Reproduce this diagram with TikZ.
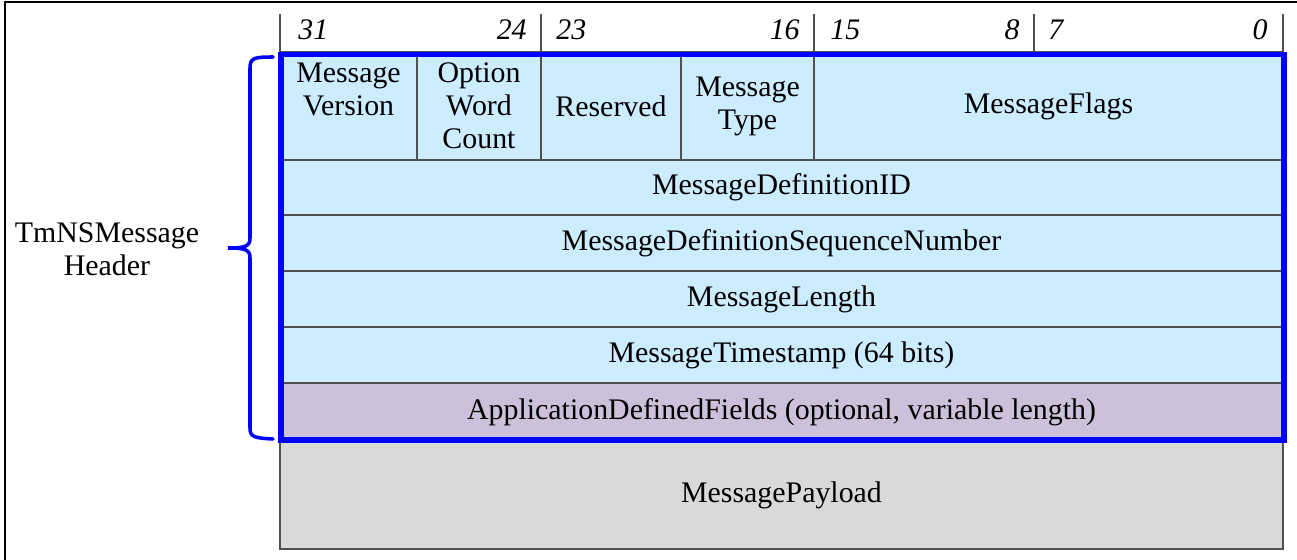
\documentclass[tikz,border=0pt]{standalone}
\usepackage{fontspec}
\setmainfont{Liberation Serif}
\newfontfamily\timesfont{Liberation Serif}
\usetikzlibrary{positioning}
\tikzset{>=latex}
\definecolor{fieldblue}{HTML}{CCECFF}
\definecolor{fieldpurple}{HTML}{CCC0DA}
\definecolor{fieldgray}{HTML}{D9D9D9}
\definecolor{cellline}{HTML}{505050}
\definecolor{headblue}{HTML}{0000FF}
\tikzset{
  cell/.style={draw=cellline,line width=0.6pt,inner sep=0pt,outer sep=0pt,align=center,
    anchor=north west,font=\timesfont\fontsize{17}{18.8}\selectfont},
  bitnum/.style={inner sep=0pt,font=\timesfont\fontsize{17}{17}\selectfont\itshape},
  bittick/.style={draw=cellline,line width=0.6pt}
}

\begin{document}
\begin{tikzpicture}[x=0.02cm,y=-0.02cm]
	\useasboundingbox (0,0) rectangle (1297,560);
	\draw [line width=1.2pt] (5,560) -- (5,2) -- (1297,2);

	% bit positions
	\foreach \t in {280,541,814,1034,1283}
		\draw [bittick] (\t,14) -- (\t,52);
	\node [bitnum,anchor=base west] (b31) at (298,40) {31};
	\node [bitnum,anchor=base east] (b24) at (527,40) {24};
	\node [bitnum,anchor=base west] (b23) at (556,40) {23};
	\node [bitnum,anchor=base east] (b16) at (800,40) {16};
	\node [bitnum,anchor=base west] (b15) at (830,40) {15};
	\node [bitnum,anchor=base east] (b8) at (1020,40) {8};
	\node [bitnum,anchor=base west] (b7) at (1048,40) {7};
	\node [bitnum,anchor=base east] (b0) at (1268,40) {0};

	% first word
	\node [cell,fill=fieldblue,minimum width=137*0.02cm,minimum height=108*0.02cm] (version) at (280,52) {Message\\Version\\~};
	\node [cell,fill=fieldblue,minimum width=124*0.02cm,minimum height=108*0.02cm] (optcount) at (417,52) {Option\\Word\\Count};
	\node [cell,fill=fieldblue,minimum width=140*0.02cm,minimum height=108*0.02cm] (reserved) at (541,52) {Reserved};
	\node [cell,fill=fieldblue,minimum width=133*0.02cm,minimum height=108*0.02cm] (msgtype) at (681,52) {Message\\Type};
	\node [cell,fill=fieldblue,minimum width=469*0.02cm,minimum height=108*0.02cm] (flags) at (814,52) {MessageFlags};

	% full words
	\node [cell,fill=fieldblue,minimum width=1003*0.02cm,minimum height=55*0.02cm] (defid) at (280,160) {MessageDefinitionID};
	\node [cell,fill=fieldblue,minimum width=1003*0.02cm,minimum height=56*0.02cm] (seqnum) at (280,215) {MessageDefinitionSequenceNumber};
	\node [cell,fill=fieldblue,minimum width=1003*0.02cm,minimum height=56*0.02cm] (length) at (280,271) {MessageLength};
	\node [cell,fill=fieldblue,minimum width=1003*0.02cm,minimum height=56*0.02cm] (stamp) at (280,327) {MessageTimestamp (64 bits)};
	\node [cell,fill=fieldpurple,minimum width=1003*0.02cm,minimum height=58*0.02cm] (appfields) at (280,383) {ApplicationDefinedFields (optional, variable length)};
	\node [cell,fill=fieldgray,minimum width=1003*0.02cm,minimum height=108*0.02cm] (payload) at (280,441) {MessagePayload};

	% header outline and brace
	\draw [headblue,line width=3.4pt] (281,54.5) rectangle (1284,440);
	\draw [headblue,line width=2pt,line cap=round] (273,57) .. controls (254,57) and (250,58) .. (250,68) -- (250,238) .. controls (250,246) and (246,248) .. (228,248) .. controls (246,248) and (250,250) .. (250,258) -- (250,428) .. controls (250,437) and (254,438) .. (273,439);
	\node [align=center,font=\timesfont\fontsize{17}{18.8}\selectfont] (hdrlabel) at (107,249) {TmNSMessage\\Header};
\end{tikzpicture}
\end{document}
